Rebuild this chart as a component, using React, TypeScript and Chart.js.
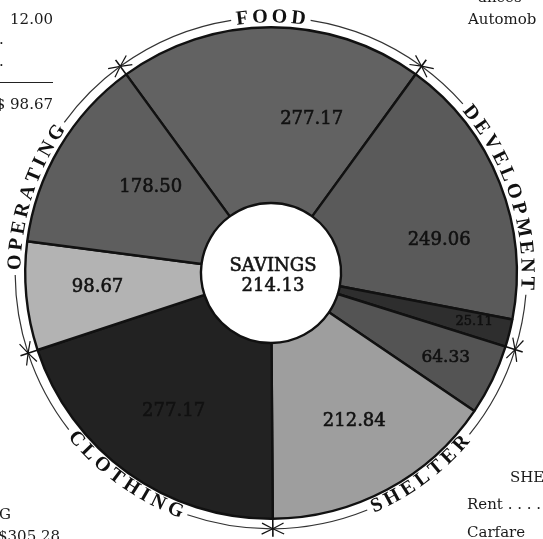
import React, { useEffect, useRef } from 'react';
import { Chart, registerables } from 'chart.js';

Chart.register(...registerables);

// ---- data ----
const CATEGORIES = ['Food', 'Development', 'Development (other)', 'Shelter (carfare)', 'Shelter', 'Clothing', 'Operating (other)', 'Operating'];
const VALUES = [277.17, 249.06, 25.11, 64.33, 212.84, 277.17, 98.67, 178.5];
const VALUE_LABELS = ['277.17', '249.06', '25.11', '64.33', '212.84', '277.17', '98.67', '178.50'];
const GROUPS = ['FOOD', 'DEVELOPMENT', 'SHELTER', 'CLOTHING', 'OPERATING'];
const GROUP_OF_SLICE = [0, 1, 1, 2, 2, 3, 4, 4];
const CENTER_LABEL = 'SAVINGS';
const CENTER_VALUE = '214.13';
const COLORS = ['#626262', '#5a5a5a', '#2e2e2e', '#545454', '#9e9e9e', '#222222', '#b3b3b3', '#5e5e5e'];

// label placement tweaks (angle shift in degrees, radius as fraction of outer radius)
const LABEL_PLACE = [
  { da: 14.8, rf: 0.648, size: 18 },
  { da: 10.5, rf: 0.697, size: 18 },
  { da: -0.6, rf: 0.85, size: 13 },
  { da: 0, rf: 0.79, size: 17 },
  { da: -1.2, rf: 0.692, size: 18 },
  { da: -0.5, rf: 0.688, size: 18 },
  { da: 0.8, rf: 0.708, size: 18 },
  { da: 4.7, rf: 0.6, size: 18 },
];

const PAGE_TEXT = [
  { text: 'ances', x: 478, base: 3, align: 'left' },
  { text: 'Automob', x: 468, base: 25, align: 'left' },
  { text: '12.00', x: 53, base: 25, align: 'right' },
  { text: '.', x: -1, base: 45, align: 'left' },
  { text: '.', x: -1, base: 67, align: 'left' },
  { text: '$ 98.67', x: 53, base: 110, align: 'right' },
  { text: 'SHE', x: 510, base: 483, align: 'left' },
  { text: 'Rent . . . .', x: 467, base: 510, align: 'left' },
  { text: 'Carfare', x: 467, base: 538, align: 'left' },
  { text: 'G', x: -1, base: 520, align: 'left' },
  { text: '$305.28', x: -2, base: 542, align: 'left' },
];

function curvedText(ctx: CanvasRenderingContext2D, text: string, cx: number, cy: number, R: number, c: number, spacing: number) {
  const chars = [...text];
  const widths = chars.map((ch) => ctx.measureText(ch).width);
  const total = widths.reduce((a, b) => a + b, 0) + spacing * (chars.length - 1);
  const half = total / 2 / R;
  const bottom = Math.sin(c) > 0;
  let off = 0;
  chars.forEach((ch, i) => {
    const w = widths[i];
    const a = bottom ? c + half - (off + w / 2) / R : c - half + (off + w / 2) / R;
    ctx.save();
    ctx.translate(cx + R * Math.cos(a), cy + R * Math.sin(a));
    ctx.rotate(bottom ? a - Math.PI / 2 : a + Math.PI / 2);
    ctx.fillText(ch, 0, 0);
    ctx.restore();
    off += w + spacing;
  });
  return half;
}

function heavyText(ctx: CanvasRenderingContext2D, text: string, x: number, y: number) {
  ctx.fillText(text, x, y);
  ctx.strokeText(text, x, y);
}

const decorPlugin = {
  id: 'decor',
  afterDatasetsDraw(chart: any) {
    const ctx: CanvasRenderingContext2D = chart.ctx;
    const arcs = chart.getDatasetMeta(0).data as any[];
    if (!arcs.length) return;
    const p0 = arcs[0].getProps(['x', 'y', 'outerRadius', 'innerRadius'], true);
    const cx = p0.x, cy = p0.y, outerR = p0.outerRadius;
    ctx.save();
    // value labels
    ctx.fillStyle = '#111';
    ctx.strokeStyle = '#111';
    ctx.lineWidth = 0.6;
    ctx.textAlign = 'center';
    ctx.textBaseline = 'middle';
    arcs.forEach((arc, i) => {
      const p = arc.getProps(['startAngle', 'endAngle'], true);
      const pl = LABEL_PLACE[i];
      const a = (p.startAngle + p.endAngle) / 2 + (pl.da * Math.PI) / 180;
      const r = pl.rf * outerR;
      ctx.font = `${pl.size}px "DejaVu Serif"`;
      heavyText(ctx, VALUE_LABELS[i], cx + r * Math.cos(a), cy + r * Math.sin(a));
    });
    // center
    ctx.fillStyle = '#151515';
    ctx.strokeStyle = '#151515';
    ctx.font = '18px "DejaVu Serif"';
    heavyText(ctx, CENTER_LABEL, cx + 2, cy - 7);
    heavyText(ctx, CENTER_VALUE, cx + 2, cy + 13);

    // groups
    const R = outerR + 10;
    const groups = GROUPS.map(() => ({ s: Infinity, e: -Infinity }));
    arcs.forEach((arc, i) => {
      const p = arc.getProps(['startAngle', 'endAngle'], true);
      const g = groups[GROUP_OF_SLICE[i]];
      g.s = Math.min(g.s, p.startAngle);
      g.e = Math.max(g.e, p.endAngle);
    });
    ctx.font = 'bold 20px "Liberation Serif"';
    ctx.fillStyle = '#111';
    ctx.strokeStyle = '#333';
    ctx.lineWidth = 1.2;
    groups.forEach((g, gi) => {
      const c = (g.s + g.e) / 2;
      const half = curvedText(ctx, GROUPS[gi], cx, cy, R, c, 4);
      const pad = 5 / R;
      ctx.beginPath();
      ctx.arc(cx, cy, R, g.s, c - half - pad);
      ctx.stroke();
      ctx.beginPath();
      ctx.arc(cx, cy, R, c + half + pad, g.e);
      ctx.stroke();
      // tick + arrows at group start
      const b = g.s;
      ctx.strokeStyle = '#111';
      ctx.lineWidth = 1.6;
      ctx.beginPath();
      ctx.moveTo(cx + (outerR - 1) * Math.cos(b), cy + (outerR - 1) * Math.sin(b));
      ctx.lineTo(cx + (R + 8) * Math.cos(b), cy + (R + 8) * Math.sin(b));
      ctx.stroke();
      ctx.lineWidth = 1.2;
      const tipX = cx + R * Math.cos(b), tipY = cy + R * Math.sin(b);
      [-1, 1].forEach((d) => {
        const a2 = b + (d * 11) / R;
        [-5.5, 5.5].forEach((w) => {
          ctx.beginPath();
          ctx.moveTo(tipX, tipY);
          ctx.lineTo(cx + (R + w) * Math.cos(a2), cy + (R + w) * Math.sin(a2));
          ctx.stroke();
        });
      });
      ctx.strokeStyle = '#333';
    });
    ctx.restore();
  },
};

export default function App() {
  const ref = useRef<HTMLCanvasElement | null>(null);
  useEffect(() => {
    if (!ref.current) return;
    const chart = new Chart(ref.current, {
      type: 'doughnut',
      data: {
        labels: CATEGORIES,
        datasets: [
          {
            data: VALUES,
            backgroundColor: COLORS,
            borderColor: '#111',
            borderWidth: 2.4,
          },
        ],
      },
      options: {
        animation: false,
        responsive: false,
        maintainAspectRatio: false,
        cutout: '28.5%',
        rotation: -36.1,
        layout: { padding: { left: 24, right: 25, top: 26, bottom: 19 } },
        plugins: { legend: { display: false }, tooltip: { enabled: false } },
      },
      plugins: [decorPlugin],
    } as any);
    return () => chart.destroy();
  }, []);

  return (
    <div style={{ position: 'fixed', left: 0, top: 0, width: 543, height: 539, background: '#fff', overflow: 'hidden' }}>
      <canvas ref={ref} width={543} height={539} style={{ position: 'absolute', left: 0, top: 0, width: 543, height: 539 }} />
      <div style={{ position: 'absolute', left: 0, top: 82, width: 53, height: 1, background: '#222' }} />
      {PAGE_TEXT.map((t, i) => (
        <div
          key={i}
          style={{
            position: 'absolute',
            top: t.base - 12.7,
            ...(t.align === 'right' ? { right: 543 - t.x } : { left: t.x }),
            font: '15px "DejaVu Serif"',
            lineHeight: '15px',
            color: '#1a1a1a',
            whiteSpace: 'pre',
          }}
        >
          {t.text}
        </div>
      ))}
    </div>
  );
}
